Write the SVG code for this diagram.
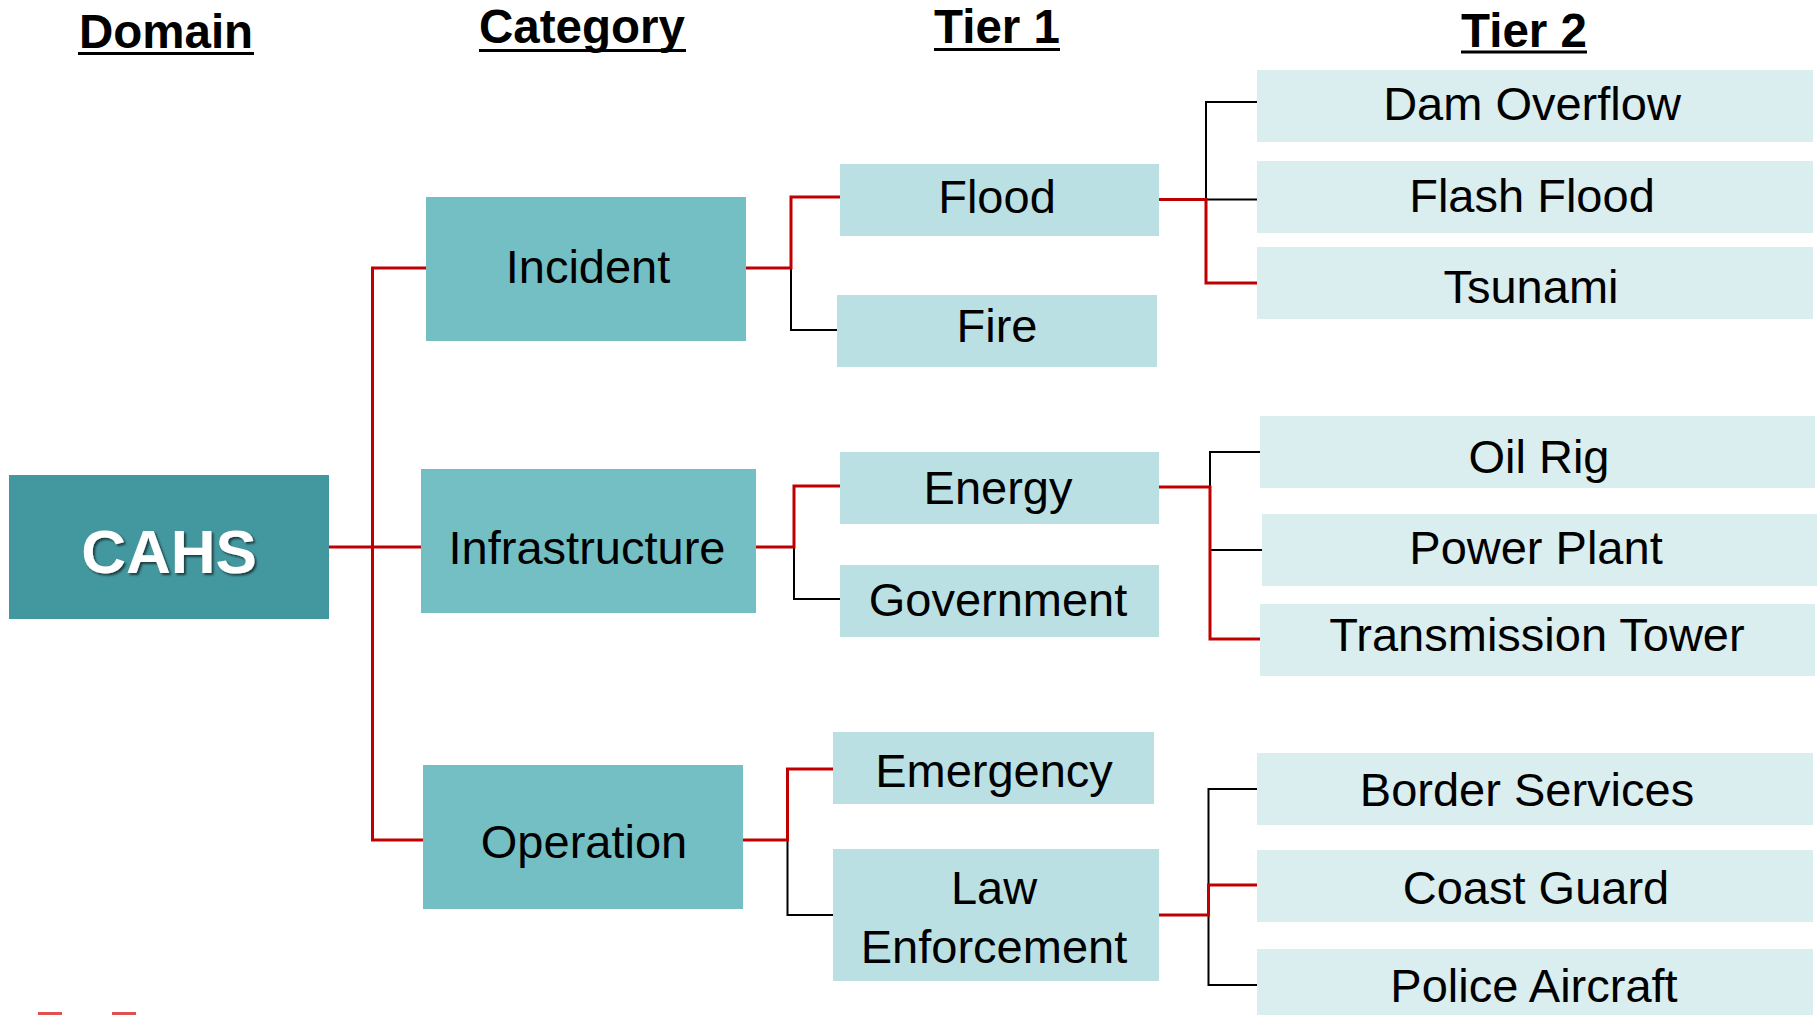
<svg xmlns="http://www.w3.org/2000/svg" width="1820" height="1015" viewBox="0 0 1820 1015">
<defs>
<filter id="shadow" x="-20%" y="-20%" width="140%" height="140%">
<feDropShadow dx="2" dy="2" stdDeviation="1" flood-color="#000" flood-opacity="0.6"/>
</filter>
<style>
text { font-family: "Liberation Sans", Arial, sans-serif; text-anchor: middle; fill: #000; }
.head { font-size: 47.5px; font-weight: bold; }
.uline { stroke: #000; stroke-width: 3.2; }
.lbl { font-size: 47px; }
.root { fill: #43979E; }
.cat { fill: #73BFC4; }
.t1 { fill: #BBE0E3; }
.t2 { fill: #DAEDEF; }
.red { stroke: #C00000; stroke-width: 3; fill: none; }
.blk { stroke: #000; stroke-width: 2; fill: none; }
.roottxt { font-size: 62px; font-weight: bold; fill: #fff; filter: url(#shadow); }
</style>
</defs>
<rect width="1820" height="1015" fill="#fff"/>

<g id="headers">
<text class="head" x="166" y="48">Domain</text>
<line class="uline" x1="78" y1="53.5" x2="254" y2="53.5"/>
<text class="head" x="582" y="43">Category</text>
<line class="uline" x1="479" y1="50.5" x2="686" y2="50.5"/>
<text class="head" x="997" y="43">Tier 1</text>
<line class="uline" x1="934" y1="49.5" x2="1060" y2="49.5"/>
<text class="head" x="1524" y="47">Tier 2</text>
<line class="uline" x1="1461" y1="52" x2="1587" y2="52"/>
</g>

<g id="connectors">
<path class="blk" d="M791,268 V330 H837"/>
<path class="blk" d="M1206,199.5 V102 H1257 M1206,199.5 H1257"/>
<path class="blk" d="M794,547 V599 H840"/>
<path class="blk" d="M1210,487 V452 H1260 M1210,550 H1262"/>
<path class="blk" d="M787.5,840 V915 H833"/>
<path class="blk" d="M1208.5,885 V789 H1257 M1208.5,915 V985 H1257"/>
<path class="red" d="M329,547 H421"/>
<path class="red" d="M426,268 H372.5 V840 H423"/>
<path class="red" d="M746,268 H791 V197 H840"/>
<path class="red" d="M1159,199.5 H1206 V283 H1257"/>
<path class="red" d="M756,547 H794 V486 H840"/>
<path class="red" d="M1159,487 H1210 V639 H1260"/>
<path class="red" d="M743,840 H787.5 V769 H833"/>
<path class="red" d="M1159,915 H1208.5 V885 H1257"/>
</g>

<g id="cahs">
<rect class="root" x="9" y="475" width="320" height="144"/>
<text class="roottxt" x="169" y="573">CAHS</text>
</g>

<g id="incident">
<rect class="cat" x="426" y="197" width="320" height="144"/>
<text class="lbl" x="588" y="283">Incident</text>
</g>
<g id="infrastructure">
<rect class="cat" x="421" y="469" width="335" height="144"/>
<text class="lbl" x="587" y="564">Infrastructure</text>
</g>
<g id="operation">
<rect class="cat" x="423" y="765" width="320" height="144"/>
<text class="lbl" x="584" y="858">Operation</text>
</g>

<g id="flood">
<rect class="t1" x="840" y="164" width="319" height="72"/>
<text class="lbl" x="997" y="213">Flood</text>
</g>
<g id="fire">
<rect class="t1" x="837" y="295" width="320" height="72"/>
<text class="lbl" x="997" y="342">Fire</text>
</g>
<g id="energy">
<rect class="t1" x="840" y="452" width="319" height="72"/>
<text class="lbl" x="998" y="504">Energy</text>
</g>
<g id="government">
<rect class="t1" x="840" y="565" width="319" height="72"/>
<text class="lbl" x="998" y="616">Government</text>
</g>
<g id="emergency">
<rect class="t1" x="833" y="732" width="321" height="72"/>
<text class="lbl" x="994" y="787">Emergency</text>
</g>
<g id="law-enforcement">
<rect class="t1" x="833" y="849" width="326" height="132"/>
<text class="lbl" x="994" y="904">Law</text>
<text class="lbl" x="994" y="963">Enforcement</text>
</g>

<g id="dam-overflow">
<rect class="t2" x="1257" y="70" width="556" height="72"/>
<text class="lbl" x="1532" y="120">Dam Overflow</text>
</g>
<g id="flash-flood">
<rect class="t2" x="1257" y="161" width="556" height="72"/>
<text class="lbl" x="1532" y="212">Flash Flood</text>
</g>
<g id="tsunami">
<rect class="t2" x="1257" y="247" width="556" height="72"/>
<text class="lbl" x="1531" y="303">Tsunami</text>
</g>
<g id="oil-rig">
<rect class="t2" x="1260" y="416" width="555" height="72"/>
<text class="lbl" x="1539" y="473">Oil Rig</text>
</g>
<g id="power-plant">
<rect class="t2" x="1262" y="514" width="555" height="72"/>
<text class="lbl" x="1536" y="564">Power Plant</text>
</g>
<g id="transmission-tower">
<rect class="t2" x="1260" y="604" width="555" height="72"/>
<text class="lbl" x="1537" y="651">Transmission Tower</text>
</g>
<g id="border-services">
<rect class="t2" x="1257" y="753" width="556" height="72"/>
<text class="lbl" x="1527" y="806">Border Services</text>
</g>
<g id="coast-guard">
<rect class="t2" x="1257" y="850" width="556" height="72"/>
<text class="lbl" x="1536" y="904">Coast Guard</text>
</g>
<g id="police-aircraft">
<rect class="t2" x="1257" y="949" width="556" height="72"/>
<text class="lbl" x="1534" y="1002">Police Aircraft</text>
</g>

<g id="footer">
<rect x="38" y="1012" width="24" height="4" fill="#E05050"/>
<rect x="112" y="1012" width="24" height="4" fill="#E05050"/>
</g>
</svg>
